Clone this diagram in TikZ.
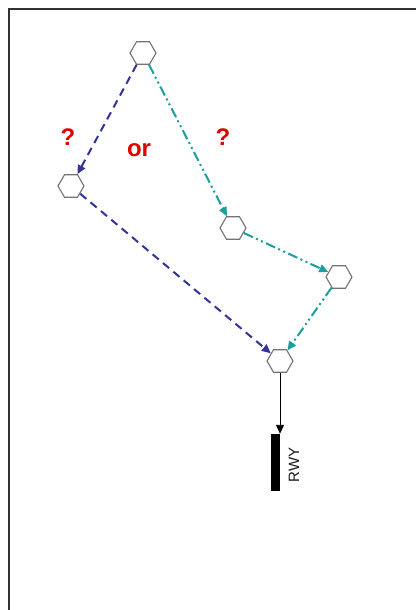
\documentclass[tikz,border=0pt]{standalone}
\usepackage{fontspec}
\setmainfont{Liberation Sans}
\usepackage{xcolor}
\usetikzlibrary{shapes.geometric,arrows.meta}
\definecolor{pathblue}{HTML}{33339A}
\definecolor{pathteal}{HTML}{1A9E9E}
\definecolor{qred}{HTML}{E00000}

\begin{document}
\begin{tikzpicture}[x=1pt,y=-1pt,
  fix/.style={regular polygon,regular polygon sides=6,minimum size=26pt,inner sep=0pt,draw=gray!90!black,line width=1.1pt,fill=white},
  routeA/.style={pathblue,line width=2pt,dash pattern=on 8pt off 5.5pt,-{Triangle[length=9pt,width=8pt]}},
  routeB/.style={pathteal,line width=2pt,dash pattern=on 10pt off 3.5pt on 2pt off 3.5pt on 2pt off 3.5pt,-{Triangle[length=9pt,width=8pt]}},
  qmark/.style={qred,font=\fontsize{24}{26}\selectfont\bfseries}]
  \useasboundingbox (0,0) rectangle (415,610);
  \fill[white] (0,0) rectangle (415,610);
  \draw[gray!40!black,line width=1.5pt] (9,611) -- (9,9) -- (416,9);
  % fixes
  \node[fix] (top) at (143,53) {};
  \node[fix] (west) at (71,186) {};
  \node[fix] (mid) at (233,228) {};
  \node[fix] (east) at (339,277) {};
  \node[fix] (merge) at (280,361) {};
  % runway
  \node[fill=black,minimum width=9pt,minimum height=57pt,inner sep=0pt] (rwy) at (275,462.5) {};
  \node[rotate=90,gray!20!black,font=\fontsize{15}{15}\selectfont] (rwylabel) at (294,465) {RWY};
  % labels
  \node[qmark] (qwest) at (68,137) {?};
  \node[qmark] (orlabel) at (139,150) {or};
  \node[qmark] (qeast) at (223,137) {?};
  % routes
  \draw[routeA] (top) -- (west);
  \draw[routeA] (west) -- (merge);
  \draw[routeB] (top) -- (mid);
  \draw[routeB] (mid) -- (east);
  \draw[routeB] (east) -- (merge);
  \draw[line width=0.9pt,-{Triangle[length=9pt,width=8pt]}] (merge.south) -- (merge.south |- rwy.north);
\end{tikzpicture}
\end{document}
